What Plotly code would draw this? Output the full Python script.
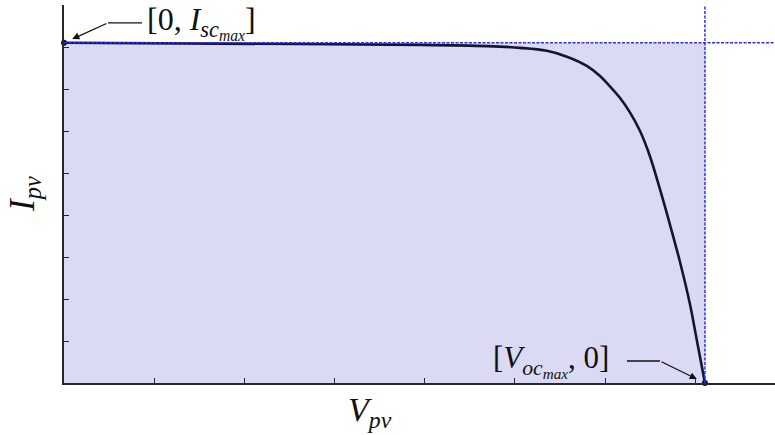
import plotly.graph_objects as go

# Measured I-V characteristic of the PV module (voltage in V, current in A)
v_pv = [0.0, 7.85, 11.84, 14.07, 15.17, 16.06, 16.73, 17.39, 17.83, 18.16,
        18.49, 18.82, 19.16, 19.49, 19.82, 20.16, 20.49, 20.82, 21.05, 21.32]
i_pv = [8.10, 8.07, 8.05, 8.02, 7.98, 7.91, 7.77, 7.55, 7.31, 7.06,
        6.79, 6.45, 6.00, 5.40, 4.62, 3.76, 2.88, 1.88, 1.02, 0.0]

isc_max = 8.10   # short-circuit current
voc_max = 21.32  # open-circuit voltage

x_range = [0, 23.65]
y_range = [0, 9]

SERIF = "Liberation Serif, Times New Roman, serif"
AXIS_COL = "#262630"
GUIDE_COL = "#2e2ef5"
INK = "#111111"

fig = go.Figure()

# I-V curve
fig.add_trace(go.Scatter(
    x=v_pv, y=i_pv, mode="lines",
    line=dict(color="#15152e", width=2.6, shape="spline", smoothing=1.0),
    hoverinfo="skip", showlegend=False,
))

# Operating-limit points
fig.add_trace(go.Scatter(
    x=[0, voc_max], y=[isc_max, 0], mode="markers",
    marker=dict(color="#101018", size=6),
    hoverinfo="skip", showlegend=False, cliponaxis=False,
))

shapes = [
    # feasible operating region
    dict(type="rect", xref="x", yref="y", x0=0, x1=voc_max, y0=0, y1=isc_max,
         fillcolor="#dadaf5", line=dict(width=0), layer="below"),
    # guide lines at Voc and Isc
    dict(type="line", xref="x", yref="paper", x0=voc_max, x1=voc_max, y0=0, y1=1,
         line=dict(color=GUIDE_COL, width=1.5, dash="3px,1.5px")),
    dict(type="line", xref="paper", yref="y", x0=0, x1=1, y0=isc_max, y1=isc_max,
         line=dict(color=GUIDE_COL, width=1.5, dash="3px,1.5px")),
    # horizontal leader segments of the callouts
    dict(type="line", xref="x", yref="y", xsizemode="pixel", ysizemode="pixel",
         xanchor=0, yanchor=isc_max, x0=44, x1=78, y0=20, y1=20,
         line=dict(color=INK, width=1.3)),
    dict(type="line", xref="x", yref="y", xsizemode="pixel", ysizemode="pixel",
         xanchor=voc_max, yanchor=0, x0=-78, x1=-45, y0=22, y1=22,
         line=dict(color=INK, width=1.3)),
]

annotations = [
    # callout arrows
    dict(x=0, y=isc_max, xref="x", yref="y", ax=44, ay=-20, axref="pixel", ayref="pixel",
         text="", showarrow=True, arrowhead=2, arrowsize=1.1, arrowwidth=1.3,
         arrowcolor=INK, standoff=9),
    dict(x=voc_max, y=0, xref="x", yref="y", ax=-45, ay=-22, axref="pixel", ayref="pixel",
         text="", showarrow=True, arrowhead=2, arrowsize=1.1, arrowwidth=1.3,
         arrowcolor=INK, standoff=9),
    # callout labels
    dict(x=0, y=isc_max, xref="x", yref="y", xanchor="left", yanchor="middle",
         xshift=81, yshift=20, showarrow=False,
         text="[0, <i>I</i><sub><i>sc<sub>max</sub></i></sub>]",
         font=dict(family=SERIF, size=32, color=INK)),
    dict(x=voc_max, y=0, xref="x", yref="y", xanchor="right", yanchor="middle",
         xshift=-94, yshift=22, showarrow=False,
         text="[<i>V</i><sub><i>oc<sub>max</sub></i></sub>, 0]",
         font=dict(family=SERIF, size=31, color=INK)),
    # axis titles
    dict(x=0.43, y=0, xref="paper", yref="paper", xanchor="center", yanchor="top",
         yshift=-6, showarrow=False,
         text="<i>V</i><sub><i>pv</i></sub>",
         font=dict(family=SERIF, size=34, color=INK)),
    dict(x=0, y=0.5, xref="paper", yref="paper", xanchor="center", yanchor="middle",
         xshift=-40, showarrow=False, textangle=-90,
         text="<i>I</i><sub><i>pv</i></sub>",
         font=dict(family=SERIF, size=35, color=INK)),
]

fig.update_layout(
    width=775, height=435,
    margin=dict(l=64, r=0, t=5, b=52),
    paper_bgcolor="white", plot_bgcolor="white",
    shapes=shapes, annotations=annotations,
    xaxis=dict(
        range=x_range, dtick=3, tick0=0, ticks="inside", ticklen=5, tickwidth=1.3,
        tickcolor=AXIS_COL, showticklabels=False, showgrid=False, zeroline=False,
        showline=True, linecolor=AXIS_COL, linewidth=1.8,
    ),
    yaxis=dict(
        range=y_range, dtick=1, tick0=0, ticks="inside", ticklen=5, tickwidth=1.3,
        tickcolor=AXIS_COL, showticklabels=False, showgrid=False, zeroline=False,
        showline=True, linecolor=AXIS_COL, linewidth=1.8,
    ),
)

fig.write_html("out.html")
